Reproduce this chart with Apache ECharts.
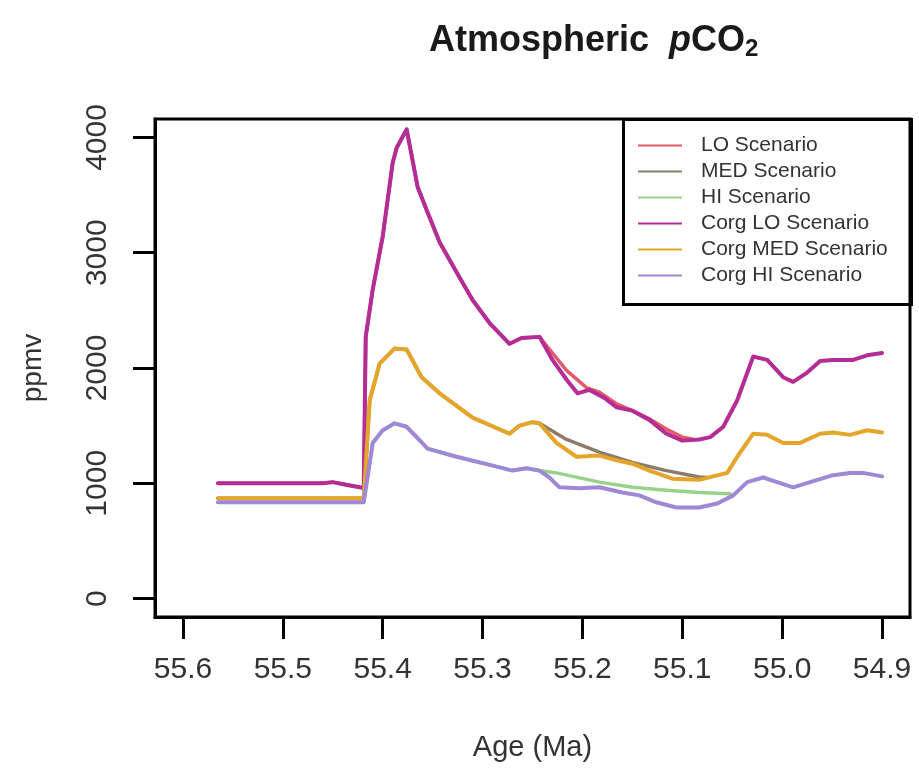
<!DOCTYPE html>
<html>
<head>
<meta charset="utf-8">
<script src="https://cdn.jsdelivr.net/npm/echarts@6/dist/echarts.min.js"></script>
<style>html,body{margin:0;padding:0;background:#fff}#c{width:919px;height:769px}</style>
</head>
<body>
<div id="c"></div>
<script>
// Series data: [age (Ma), pCO2 (ppmv)]
var loScenario = [[55.565,1000],[55.46,1000],[55.45,1010],[55.438,990],[55.423,965],[55.419,960],[55.417,2270],[55.41,2680],[55.4,3140],[55.39,3780],[55.386,3910],[55.376,4070],[55.365,3570],[55.356,3370],[55.343,3090],[55.326,2830],[55.31,2590],[55.293,2390],[55.273,2210],[55.261,2260],[55.243,2270],[55.23,2130],[55.216,1980],[55.196,1830],[55.183,1790],[55.166,1690],[55.15,1630],[55.133,1560],[55.116,1470],[55.1,1400],[55.09,1385]];
var medScenario = [[55.565,870],[55.419,870],[55.413,1720],[55.403,2040],[55.388,2170],[55.376,2160],[55.361,1920],[55.343,1780],[55.31,1570],[55.273,1430],[55.263,1500],[55.25,1530],[55.243,1520],[55.216,1380],[55.183,1270],[55.15,1180],[55.116,1110],[55.083,1055],[55.075,1050]];
var hiScenario = [[55.565,835],[55.419,835],[55.41,1350],[55.4,1460],[55.388,1520],[55.376,1490],[55.366,1400],[55.355,1300],[55.326,1230],[55.293,1160],[55.27,1110],[55.256,1130],[55.243,1110],[55.226,1090],[55.183,1010],[55.15,965],[55.116,940],[55.083,920],[55.052,910]];
var corgLoScenario = [[55.565,1000],[55.46,1000],[55.45,1010],[55.438,990],[55.423,965],[55.419,960],[55.417,2270],[55.41,2680],[55.4,3140],[55.39,3780],[55.386,3910],[55.376,4070],[55.365,3570],[55.356,3370],[55.343,3090],[55.326,2830],[55.31,2590],[55.293,2390],[55.273,2210],[55.261,2260],[55.243,2270],[55.23,2070],[55.216,1900],[55.205,1780],[55.193,1810],[55.178,1740],[55.166,1660],[55.15,1630],[55.133,1550],[55.116,1430],[55.1,1370],[55.083,1380],[55.072,1400],[55.059,1490],[55.045,1720],[55.029,2100],[55.015,2070],[54.999,1920],[54.989,1880],[54.975,1960],[54.962,2060],[54.949,2070],[54.929,2070],[54.915,2110],[54.9,2130]];
var corgMedScenario = [[55.565,870],[55.419,870],[55.413,1720],[55.403,2040],[55.388,2170],[55.376,2160],[55.361,1920],[55.343,1780],[55.31,1570],[55.273,1430],[55.263,1500],[55.25,1530],[55.243,1520],[55.226,1350],[55.206,1230],[55.183,1240],[55.166,1200],[55.15,1170],[55.133,1110],[55.11,1040],[55.083,1030],[55.055,1090],[55.045,1230],[55.029,1430],[55.015,1420],[54.999,1350],[54.982,1350],[54.962,1430],[54.949,1440],[54.932,1420],[54.915,1460],[54.9,1440]];
var corgHiScenario = [[55.565,835],[55.419,835],[55.41,1350],[55.4,1460],[55.388,1520],[55.376,1490],[55.366,1400],[55.355,1300],[55.326,1230],[55.293,1160],[55.27,1110],[55.256,1130],[55.243,1110],[55.233,1050],[55.223,965],[55.203,957],[55.183,965],[55.16,920],[55.143,895],[55.126,835],[55.106,790],[55.083,790],[55.065,825],[55.049,895],[55.035,1010],[55.019,1050],[55.005,1010],[54.989,965],[54.972,1010],[54.949,1070],[54.932,1090],[54.919,1090],[54.9,1060]];

var seriesNames = ['LO Scenario','MED Scenario','HI Scenario','Corg LO Scenario','Corg MED Scenario','Corg HI Scenario'];
var xTicks = [55.6,55.5,55.4,55.3,55.2,55.1,55.0,54.9];
var yTicks = [0,1000,2000,3000,4000];

var colors = ['#e35b6b','#8c7b6a','#98d28a','#b42d94','#e5a52a','#9f88d6'];
var widths = [3.5,3.5,3.5,4,4,4];
var datasets = [loScenario, medScenario, hiScenario, corgLoScenario, corgMedScenario, corgHiScenario];

var FONT = '"Liberation Sans", Arial, sans-serif';
var chart = echarts.init(document.getElementById('c'), null, {renderer:'canvas'});

var series = seriesNames.map(function(n,i){
  return {
    name:n, type:'line', data:datasets[i], showSymbol:false, symbol:'none',
    lineStyle:{color:colors[i], width:widths[i], join:'round', cap:'round'}, itemStyle:{color:colors[i]},
    z: i<3 ? 2 : 3, animation:false
  };
});

chart.setOption({
  animation:false,
  backgroundColor:'#fff',
  title:{
    text:'Atmospheric  {i|p}CO{s|2}',
    left:424, top:16,
    textStyle:{
      fontFamily:FONT, fontWeight:'bold', fontSize:36, color:'#1a1a1a',
      rich:{
        i:{fontFamily:FONT, fontWeight:'bold', fontStyle:'italic', fontSize:36, color:'#1a1a1a'},
        s:{fontFamily:FONT, fontWeight:'bold', fontSize:24, color:'#1a1a1a', verticalAlign:'bottom', padding:[16,0,0,0]}
      }
    }
  },
  grid:{left:155, right:9, top:119, bottom:152, show:true, borderColor:'#000', borderWidth:3, backgroundColor:'#fff'},
  legend:{
    orient:'vertical', left:638, top:135, padding:0, itemGap:5,
    itemWidth:44, itemHeight:2, icon:'rect', selectedMode:false,
    data:seriesNames,
    textStyle:{fontFamily:FONT, fontSize:21, color:'#333', padding:[0,0,0,14]}
  },
  xAxis:{
    type:'value', inverse:true, min:54.872, max:55.628,
    name:'Age (Ma)', nameLocation:'middle', nameGap:116,
    nameTextStyle:{fontFamily:FONT, fontSize:29, color:'#333'},
    axisLine:{show:true, onZero:false, lineStyle:{color:'#000', width:3}},
    axisTick:{show:true, inside:false, length:22, lineStyle:{color:'#000', width:3}, customValues:xTicks},
    axisLabel:{fontFamily:FONT, fontSize:30, color:'#333', margin:38, customValues:xTicks,
      formatter:function(v){return v.toFixed(1);}},
    splitLine:{show:false}
  },
  yAxis:{
    type:'value', min:-160, max:4160,
    name:'ppmv', nameLocation:'middle', nameGap:108,
    nameTextStyle:{fontFamily:FONT, fontSize:28, color:'#333'},
    axisLine:{show:true, onZero:false, lineStyle:{color:'#000', width:3}},
    axisTick:{show:true, inside:false, length:22, lineStyle:{color:'#000', width:3}, customValues:yTicks},
    axisLabel:{fontFamily:FONT, fontSize:30, color:'#333', rotate:90, margin:42, customValues:yTicks,
      formatter:function(v){return String(v);}},
    splitLine:{show:false}
  },
  graphic:[{
    type:'rect', left:622, top:118, z:50,
    shape:{width:288, height:185},
    style:{fill:'rgba(255,255,255,0)', stroke:'#000', lineWidth:3},
    silent:true
  }],
  series:series
});
</script>
</body>
</html>
